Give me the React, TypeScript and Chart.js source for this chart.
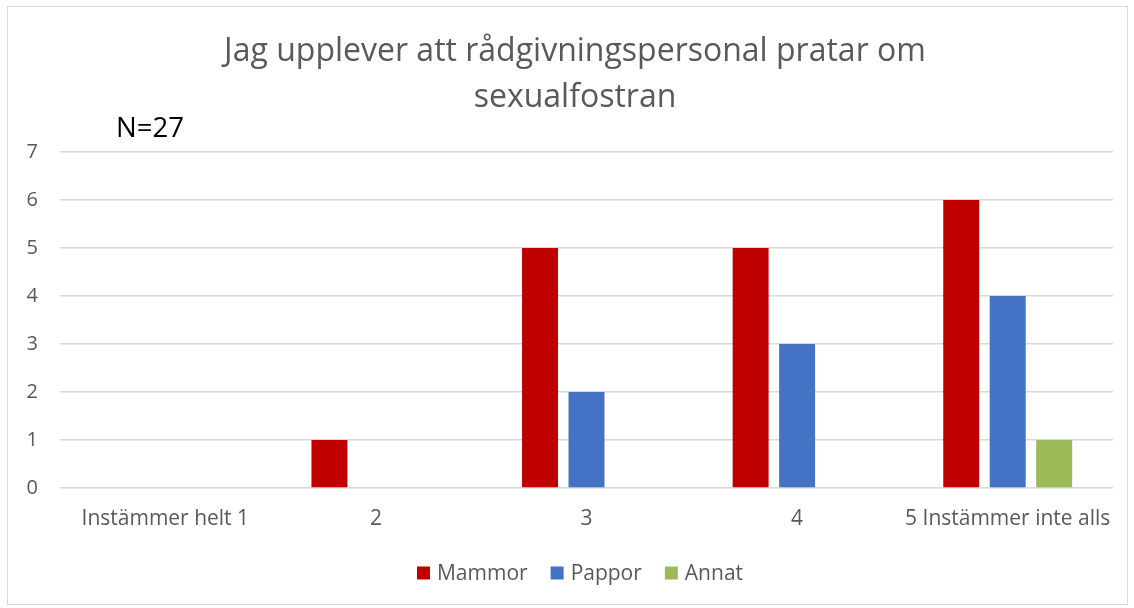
import React, { useEffect, useRef } from "react";
import { Chart, registerables } from "chart.js";

Chart.register(...registerables);

const categories = ["Instämmer helt 1", "2", "3", "4", "5 Instämmer inte alls"];
const mammor = [0, 1, 5, 5, 6];
const pappor = [0, 0, 2, 3, 4];
const annat = [0, 0, 0, 0, 1];
const titleLines = ["Jag upplever att rådgivningspersonal pratar om", "sexualfostran"];
const noteText = "N=27";

const FONT = "'Open Sans', 'Noto Sans', sans-serif";
const GRAY = "#595959";

const overlay = {
  id: "overlay",
  afterDraw(chart: any) {
    const ctx = chart.ctx;
    ctx.save();
    ctx.fillStyle = GRAY;
    ctx.font = `32px ${FONT}`;
    ctx.textAlign = "center";
    ctx.textBaseline = "middle";
    ctx.fillText(titleLines[0], 575, 52);
    ctx.fillText(titleLines[1], 575, 98);
    ctx.fillStyle = "#000000";
    ctx.font = `27.5px ${FONT}`;
    ctx.textAlign = "left";
    ctx.fillText(noteText, 116, 129);

    // legend
    const box = 13;
    const textGap = 7;
    const itemGap = 23;
    ctx.font = `21px ${FONT}`;
    const items = chart.data.datasets.map((d: any) => ({
      label: d.label,
      color: d.backgroundColor,
      w: box + textGap + ctx.measureText(d.label).width,
    }));
    const total = items.reduce((a: number, it: any) => a + it.w, 0) + itemGap * (items.length - 1);
    let x = 580 - total / 2;
    const cy = 573;
    ctx.textBaseline = "middle";
    for (const it of items) {
      ctx.fillStyle = it.color;
      ctx.fillRect(x, cy - box / 2, box, box);
      ctx.fillStyle = GRAY;
      ctx.fillText(it.label, x + box + textGap, cy + 1);
      x += it.w + itemGap;
    }
    ctx.restore();
  },
};

export default function App() {
  const ref = useRef<HTMLCanvasElement>(null);
  useEffect(() => {
    const chart = new Chart(ref.current!, {
      type: "bar",
      data: {
        labels: categories,
        datasets: [
          { label: "Mammor", data: mammor, backgroundColor: "#C00000" },
          { label: "Pappor", data: pappor, backgroundColor: "#4472C4" },
          { label: "Annat", data: annat, backgroundColor: "#9BBB59" },
        ],
      },
      options: {
        animation: false,
        responsive: false,
        layout: { padding: { top: 152, right: 21, left: 0, bottom: 68 } },
        datasets: { bar: { categoryPercentage: 0.662, barPercentage: 0.774 } },
        scales: {
          x: {
            grid: { display: false, drawTicks: false },
            border: { display: false },
            ticks: { color: GRAY, font: { family: FONT, size: 21 }, padding: 18, maxRotation: 0, autoSkip: false },
            afterFit: (s: any) => { s.height = 52; },
          },
          y: {
            min: 0,
            max: 7,
            grid: { color: "#D9D9D9", lineWidth: 1.5, drawTicks: false },
            border: { display: false },
            ticks: { stepSize: 1, color: GRAY, font: { family: FONT, size: 20 }, padding: 22 },
            afterFit: (s: any) => { s.width = 60; },
          },
        },
        plugins: {
          legend: { display: false },
          title: { display: false },
          tooltip: { enabled: false },
        },
      },
      plugins: [overlay],
    });
    return () => chart.destroy();
  }, []);
  return (
    <div style={{ position: "fixed", left: 0, top: 0, width: 1134, height: 608, background: "#fff" }}>
      <div style={{ position: "absolute", left: 7, top: 6, width: 1119, height: 597, border: "1px solid #D9D9D9" }} />
      <canvas ref={ref} width={1134} height={608} style={{ position: "absolute", left: 0, top: 0 }} />
    </div>
  );
}
